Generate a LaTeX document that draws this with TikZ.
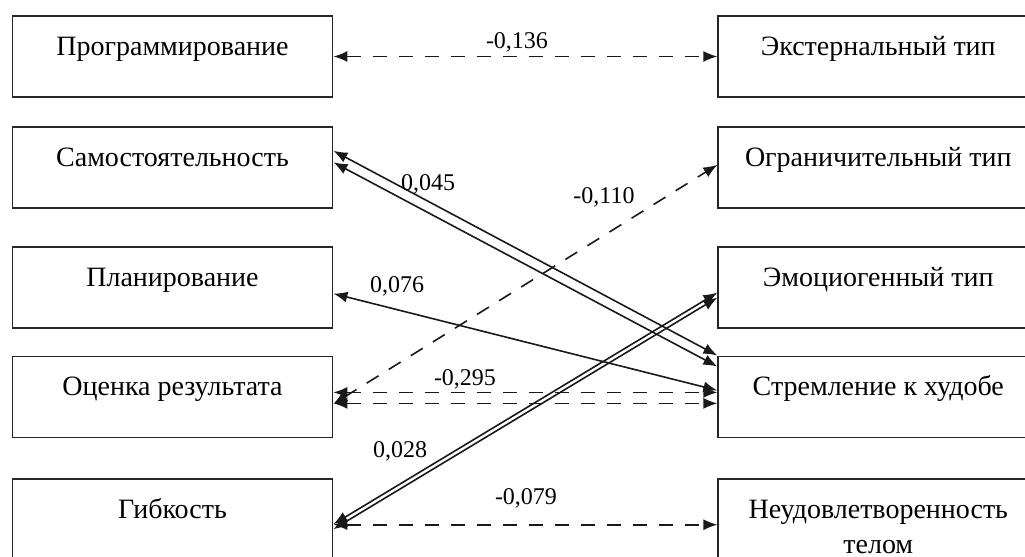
\documentclass[tikz,border=0pt]{standalone}
\usepackage{fontspec}
\setmainfont{Liberation Serif}
\usetikzlibrary{positioning,arrows.meta}

\begin{document}
\begin{tikzpicture}[
            x=0.5pt,y=-0.5pt,
            box/.style={rectangle,draw=black!85,line width=0.9pt,minimum width=160pt,inner sep=5.25pt,text height=14.5pt,text depth=15.5pt,align=center,font=\fontsize{14pt}{17.5pt}\selectfont},
            link/.style={{Latex[length=7pt,width=5.5pt]}-{Latex[length=7pt,width=5.5pt]},line width=0.8pt,black!90},
            dlink/.style={link,dash pattern=on 7pt off 6pt},
            coef/.style={font=\fontsize{12pt}{14pt}\selectfont,inner sep=0pt}]
            \useasboundingbox (0,0) rectangle (1025,557);
            \clip (0,0) rectangle (1025,557);
            % left column
            \node[box] (l1) at (172.5,56.5) {Программирование};
            \node[box,below=14pt of l1] (l2) {Самостоятельность};
            \node[box,below=18.5pt of l2] (l3) {Планирование};
            \node[box,below=13.5pt of l3] (l4) {Оценка результата};
            \node[box,below=20pt of l4] (l5) {Гибкость};
            % right column
            \node[box,right=192pt of l1] (r1) {Экстернальный тип};
            \node[box,right=192pt of l2] (r2) {Ограничительный тип};
            \node[box,right=192pt of l3] (r3) {Эмоциогенный тип};
            \node[box,right=192pt of l4] (r4) {Стремление к худобе};
            \node[box,text height=32pt,text depth=40pt,right=192pt of l5.north east,anchor=north west] (r5) {Неудовлетворенность\\телом};
            % connectors
            \draw[dlink] (l1.east)--(r1.west);
            \draw[link] ([yshift=8.25pt]l2.east)--(r4.north west);
            \draw[link] ([yshift=2.5pt]l2.east)--([yshift=-5.5pt]r4.north west);
            \draw[link] ([yshift=-3.25pt]l3.east)--([yshift=3.25pt]r4.west);
            \draw[dlink] ([yshift=-3.5pt]l4.east)--([yshift=1.25pt]r2.west);
            \draw[dlink] ([yshift=2.25pt]l4.east)--([yshift=2.25pt]r4.west);
            \draw[dlink] ([yshift=-3.25pt]l4.east)--([yshift=-3.25pt]r4.west);
            \draw[link] ([yshift=-2.25pt]l5.east)--([yshift=-2.75pt]r3.west);
            \draw[link] ([yshift=-4.75pt]l5.east)--([yshift=-5.25pt]r3.west);
            \draw[dlink] ([yshift=-2.5pt]l5.east)--([yshift=-2.5pt]l5.east-|r5.west);
            % coefficients
            \node[coef] (k1) at (517,42) {-0,136};
            \node[coef] (k2) at (428,184) {0,045};
            \node[coef] (k3) at (604,197) {-0,110};
            \node[coef] (k4) at (397,286) {0,076};
            \node[coef] (k5) at (465,379) {-0,295};
            \node[coef] (k6) at (400,451) {0,028};
            \node[coef] (k7) at (526,498) {-0,079};
        \end{tikzpicture}
\end{document}
